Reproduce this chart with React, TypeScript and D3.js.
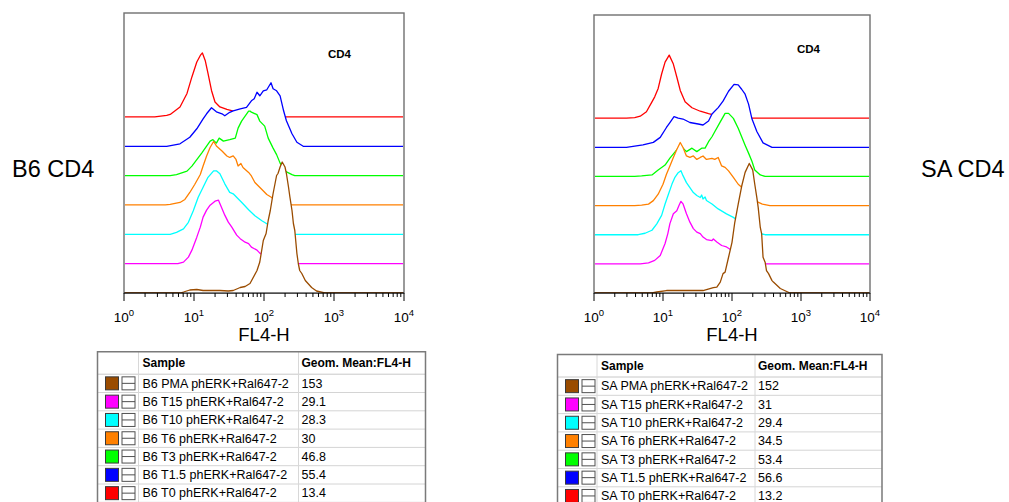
import React from "react";
import * as d3 from "d3";

type Pt = [number, number];

// Each histogram: [log10(FL4-H), events per channel]
const b6PMA: Pt[] = [[0,0],[0.8,0],[0.85,2],[0.94,6],[1.04,7],[1.13,5],[1.23,5],[1.37,5],[1.49,4],[1.56,5],[1.66,11],[1.73,13],[1.8,19],[1.9,45],[1.94,62],[1.99,105],[2.03,119],[2.06,145],[2.09,165],[2.13,199],[2.18,235],[2.2,239],[2.23,252],[2.26,262],[2.3,252],[2.32,239],[2.35,212],[2.37,192],[2.4,165],[2.42,139],[2.44,125],[2.47,79],[2.49,59],[2.51,45],[2.54,39],[2.59,25],[2.68,11],[2.75,4],[2.87,0],[4,0]];
const b6T15: Pt[] = [[0,0],[0.77,0],[0.85,3],[0.92,13],[0.97,27],[1.04,53],[1.09,73],[1.13,93],[1.18,107],[1.23,117],[1.3,125],[1.35,127],[1.38,117],[1.44,97],[1.49,83],[1.54,73],[1.61,57],[1.66,50],[1.73,43],[1.78,40],[1.82,33],[1.9,27],[1.94,21],[2.01,15],[2.11,7],[2.23,3],[2.34,0],[4,0]];
const b6T10: Pt[] = [[0,0],[0.66,0],[0.75,4],[0.85,11],[0.92,24],[0.99,47],[1.06,74],[1.13,94],[1.2,114],[1.28,127],[1.32,127],[1.37,121],[1.44,101],[1.51,84],[1.56,81],[1.63,71],[1.7,61],[1.78,49],[1.87,37],[1.97,27],[2.04,21],[2.11,14],[2.2,7],[2.31,2],[2.4,0],[4,0]];
const b6T6: Pt[] = [[0,0],[0.59,0],[0.66,1],[0.8,5],[0.87,11],[0.94,25],[1.01,41],[1.09,61],[1.13,78],[1.18,98],[1.23,115],[1.28,127],[1.32,118],[1.4,108],[1.47,98],[1.51,95],[1.56,98],[1.6,91],[1.63,78],[1.67,83],[1.7,75],[1.78,65],[1.82,58],[1.87,45],[1.97,31],[2.04,21],[2.11,15],[2.17,8],[2.3,2],[2.4,0],[4,0]];
const b6T3: Pt[] = [[0,0],[0.66,0],[0.75,2],[0.9,9],[0.97,19],[1.04,32],[1.11,45],[1.18,59],[1.23,69],[1.27,72],[1.32,65],[1.36,75],[1.42,69],[1.51,72],[1.59,75],[1.63,95],[1.68,109],[1.73,119],[1.78,129],[1.8,129],[1.82,127],[1.9,122],[1.94,109],[2.01,99],[2.06,75],[2.13,55],[2.18,42],[2.23,25],[2.3,9],[2.4,2],[2.44,0],[4,0]];
const b6T1_5: Pt[] = [[0,0],[0.61,0],[0.8,5],[0.94,18],[1.04,35],[1.13,55],[1.18,65],[1.25,77],[1.32,69],[1.4,65],[1.44,61],[1.51,68],[1.56,71],[1.66,75],[1.75,78],[1.82,91],[1.86,95],[1.9,108],[1.94,101],[1.99,111],[2.04,113],[2.1,127],[2.13,115],[2.18,111],[2.23,101],[2.28,71],[2.32,51],[2.4,25],[2.47,8],[2.56,0],[4,0]];
const b6T0: Pt[] = [[0,0],[0.44,0],[0.61,3],[0.66,5],[0.8,20],[0.9,47],[0.97,80],[1.04,110],[1.09,123],[1.12,128],[1.16,113],[1.2,87],[1.25,53],[1.3,30],[1.37,20],[1.47,15],[1.55,12],[1.73,9],[1.94,3],[2.16,0],[4,0]];

const saPMA: Pt[] = [[0,0],[0.84,0],[0.91,2],[1.05,5],[1.34,5],[1.58,5],[1.73,11],[1.78,12],[1.83,22],[1.87,39],[1.9,42],[1.95,72],[2.0,102],[2.04,142],[2.09,179],[2.14,215],[2.19,243],[2.25,261],[2.3,248],[2.33,219],[2.36,192],[2.38,172],[2.41,132],[2.43,119],[2.45,72],[2.48,62],[2.5,45],[2.53,39],[2.58,25],[2.6,22],[2.7,9],[2.84,0],[4,0]];
const saT15: Pt[] = [[0,0],[0.67,0],[0.79,2],[0.88,7],[0.96,17],[1.03,41],[1.07,61],[1.1,81],[1.15,101],[1.2,107],[1.23,117],[1.26,126],[1.29,121],[1.34,101],[1.39,84],[1.44,71],[1.49,64],[1.54,61],[1.58,54],[1.63,49],[1.71,47],[1.73,50],[1.78,44],[1.85,37],[1.92,34],[2.0,27],[2.12,17],[2.26,7],[2.41,0],[4,0]];
const saT10: Pt[] = [[0,0],[0.64,0],[0.74,3],[0.84,9],[0.91,22],[0.98,39],[1.03,62],[1.08,82],[1.13,102],[1.17,115],[1.22,125],[1.26,129],[1.29,119],[1.34,105],[1.39,95],[1.44,85],[1.49,79],[1.54,75],[1.56,80],[1.58,72],[1.61,76],[1.63,69],[1.71,62],[1.8,52],[1.92,42],[2.02,35],[2.12,25],[2.23,13],[2.33,5],[2.48,0],[4,0]];
const saT6: Pt[] = [[0,0],[0.59,0],[0.69,1],[0.79,3],[0.86,10],[0.93,23],[1.0,43],[1.05,63],[1.1,80],[1.15,97],[1.2,113],[1.25,127],[1.29,117],[1.34,100],[1.39,97],[1.44,100],[1.49,93],[1.54,97],[1.58,100],[1.63,93],[1.71,95],[1.75,93],[1.8,97],[1.85,80],[1.9,77],[1.95,70],[2.02,57],[2.09,43],[2.14,37],[2.23,22],[2.33,10],[2.44,3],[2.55,0],[4,0]];
const saT3: Pt[] = [[0,0],[0.59,0],[0.69,1],[0.84,3],[0.93,13],[1.03,23],[1.1,37],[1.16,47],[1.22,57],[1.27,60],[1.34,50],[1.42,57],[1.49,50],[1.56,57],[1.61,57],[1.66,70],[1.71,80],[1.75,90],[1.83,110],[1.9,127],[1.95,127],[2.02,117],[2.09,97],[2.14,80],[2.19,63],[2.24,47],[2.29,30],[2.33,13],[2.41,3],[2.48,0],[4,0]];
const saT1_5: Pt[] = [[0,0],[0.47,0],[0.71,5],[0.86,10],[0.96,20],[1.05,40],[1.1,50],[1.16,62],[1.22,59],[1.29,57],[1.39,50],[1.51,47],[1.58,45],[1.66,53],[1.71,67],[1.8,80],[1.87,93],[1.95,113],[2.03,127],[2.09,126],[2.14,117],[2.19,107],[2.24,87],[2.29,57],[2.36,32],[2.45,9],[2.58,0],[4,0]];
const saT0: Pt[] = [[0,0],[0.47,0],[0.59,1],[0.67,4],[0.76,13],[0.84,33],[0.88,43],[0.93,60],[0.98,89],[1.03,113],[1.09,127],[1.15,109],[1.2,83],[1.25,56],[1.32,33],[1.42,21],[1.54,14],[1.66,9],[1.83,3],[2.04,1],[2.26,0],[4,0]];

// Overlay order, bottom (front) to top (back)
const b6Series = [b6PMA, b6T15, b6T10, b6T6, b6T3, b6T1_5, b6T0];
const saSeries = [saPMA, saT15, saT10, saT6, saT3, saT1_5, saT0];

const b6Samples = ["B6 PMA phERK+Ral647-2", "B6 T15 phERK+Ral647-2", "B6 T10 phERK+Ral647-2", "B6 T6 phERK+Ral647-2", "B6 T3 phERK+Ral647-2", "B6 T1.5 phERK+Ral647-2", "B6 T0 phERK+Ral647-2"];
const b6GeoMeans = ["153", "29.1", "28.3", "30", "46.8", "55.4", "13.4"];
const saSamples = ["SA PMA phERK+Ral647-2", "SA T15 phERK+Ral647-2", "SA T10 phERK+Ral647-2", "SA T6 phERK+Ral647-2", "SA T3 phERK+Ral647-2", "SA T1.5 phERK+Ral647-2", "SA T0 phERK+Ral647-2"];
const saGeoMeans = ["152", "31", "29.4", "34.5", "53.4", "56.6", "13.2"];

const sampleColors = ["#9a4c00", "#ff00ff", "#00ffff", "#ff8000", "#00ff00", "#0000ff", "#ff0000"];
const decades = [0, 1, 2, 3, 4];
const tableHeaders = ["Sample", "Geom. Mean:FL4-H"];

const FONT = "'Liberation Sans', Arial, Helvetica, sans-serif";

interface PanelProps {
  left: number;
  right: number;
  top: number;
  bottom: number;
  series: Pt[][];
  title: string;
  titleX: number;
  titleY: number;
  clipId: string;
}

function OverlayHistogram({ left, right, top, bottom, series, title, titleX, titleY, clipId }: PanelProps) {
  const x = d3.scaleLinear().domain([0, 4]).range([left, right]);
  const y = d3.scaleLinear().domain([0, 560]).range([bottom, top]);
  const step = 0.1048 * (bottom - top);

  const minor: number[] = [];
  decades.slice(0, -1).forEach((d) => {
    for (let k = 2; k <= 9; k++) minor.push(d + Math.log10(k));
  });

  const layers = series.map((pts, i) => {
    const dy = i * step;
    const area = d3
      .area<Pt>()
      .x((p) => x(p[0]))
      .y0(y(0) - dy)
      .y1((p) => y(p[1]) - dy);
    const line = d3
      .line<Pt>()
      .x((p) => x(p[0]))
      .y((p) => y(p[1]) - dy);
    return { area: area(pts) || "", line: line(pts) || "", color: sampleColors[i] };
  });

  return (
    <g>
      <defs>
        <clipPath id={clipId}>
          <rect x={left + 1} y={top} width={right - left - 2} height={bottom - top} />
        </clipPath>
      </defs>
      <rect x={left} y={top} width={right - left} height={bottom - top} fill="#fff" stroke="#707070" strokeWidth={1.4} />
      <g clipPath={`url(#${clipId})`}>
        {layers
          .slice()
          .reverse()
          .map((l, j) => (
            <g key={j}>
              <path d={l.area} fill="#fff" stroke="none" />
              <path d={l.line} fill="none" stroke={l.color} strokeWidth={1.3} strokeLinejoin="round" />
            </g>
          ))}
      </g>
      <line x1={left} x2={right} y1={bottom} y2={bottom} stroke="#000" strokeWidth={1.2} />
      {minor.map((m, i) => (
        <line key={i} x1={x(m)} x2={x(m)} y1={bottom} y2={bottom + 4} stroke="#000" strokeWidth={1} />
      ))}
      {decades.map((d) => (
        <line key={d} x1={x(d)} x2={x(d)} y1={bottom} y2={bottom + 8} stroke="#000" strokeWidth={1} />
      ))}
      {decades.map((d) => (
        <text key={d} x={x(d)} y={bottom + 29} textAnchor="middle" fontFamily={FONT} fontSize={13.5} fill="#000">
          10
          <tspan dy={-6} fontSize={9.5}>
            {d}
          </tspan>
        </text>
      ))}
      <text x={(left + right) / 2} y={bottom + 48} textAnchor="middle" fontFamily={FONT} fontSize={18.5} fill="#000">
        FL4-H
      </text>
      <text x={titleX} y={titleY} textAnchor="middle" fontFamily={FONT} fontSize={11.5} fontWeight="bold" fill="#000">
        {title}
      </text>
    </g>
  );
}

interface TableProps {
  left: number;
  top: number;
  colWidths: number[];
  names: string[];
  values: string[];
}

function StatsTable({ left, top, colWidths, names, values }: TableProps) {
  const headerH = 22.5;
  const rowH = 18.3;
  const width = colWidths[0] + colWidths[1] + colWidths[2];
  const c1 = left + colWidths[0];
  const c2 = c1 + colWidths[1];
  const bottom = top + headerH + rowH * names.length;
  return (
    <g fontFamily={FONT} fontSize={12.5}>
      <rect x={left} y={top} width={width} height={bottom - top} fill="#fff" />
      {names.map((_, i) => {
        const yy = top + headerH + rowH * (i + 1);
        return <line key={i} x1={left} x2={left + width} y1={yy} y2={yy} stroke="#d4d4d4" />;
      })}
      <line x1={left} x2={left + width} y1={top + headerH} y2={top + headerH} stroke="#c8c8c8" />
      <line x1={c1} x2={c1} y1={top} y2={bottom} stroke="#d8d8d8" />
      <line x1={c2} x2={c2} y1={top} y2={bottom} stroke="#d8d8d8" />
      <path d={`M${left},${bottom}V${top}H${left + width}V${bottom}`} fill="none" stroke="#7a7a7a" strokeWidth={1.5} />
      <text x={c1 + 4} y={top + headerH / 2 + 4.3} fontWeight="bold" fontSize={12}>
        {tableHeaders[0]}
      </text>
      <text x={c2 + 3} y={top + headerH / 2 + 4.3} fontWeight="bold" fontSize={12}>
        {tableHeaders[1]}
      </text>
      {names.map((n, i) => {
        const cy = top + headerH + rowH * i + rowH / 2;
        return (
          <g key={n}>
            <rect x={left + 8} y={cy - 6.5} width={13} height={13} fill={sampleColors[i]} stroke="#3a3a3a" strokeWidth={1} />
            <rect x={left + 24.5} y={cy - 6.5} width={13} height={13} fill="#fff" stroke="#505050" strokeWidth={1} />
            <line x1={left + 24.5} x2={left + 37.5} y1={cy} y2={cy} stroke="#505050" strokeWidth={1} />
            <text x={c1 + 4} y={cy + 4.3} fill="#000">
              {n}
            </text>
            <text x={c2 + 3} y={cy + 4.3} fill="#000">
              {values[i]}
            </text>
          </g>
        );
      })}
    </g>
  );
}

export default function App() {
  return (
    <svg
      width={1009}
      height={502}
      viewBox="0 0 1009 502"
      style={{ position: "fixed", left: 0, top: 0, background: "#fff" }}
    >
      <rect x={0} y={0} width={1009} height={502} fill="#fff" />
      <text x={12} y={176.5} fontFamily={FONT} fontSize={23.5} fill="#000">
        B6 CD4
      </text>
      <text x={921} y={176.5} fontFamily={FONT} fontSize={23.5} fill="#000">
        SA CD4
      </text>
      <OverlayHistogram left={124} right={404} top={13} bottom={293} series={b6Series} title="CD4" titleX={339.5} titleY={58} clipId="clipB6" />
      <OverlayHistogram left={594} right={870} top={15} bottom={293} series={saSeries} title="CD4" titleX={808.5} titleY={53.3} clipId="clipSA" />
      <StatsTable left={97.5} top={351.7} colWidths={[41, 160, 127]} names={b6Samples} values={b6GeoMeans} />
      <StatsTable left={557.5} top={354.5} colWidths={[39.5, 158, 127]} names={saSamples} values={saGeoMeans} />
    </svg>
  );
}
